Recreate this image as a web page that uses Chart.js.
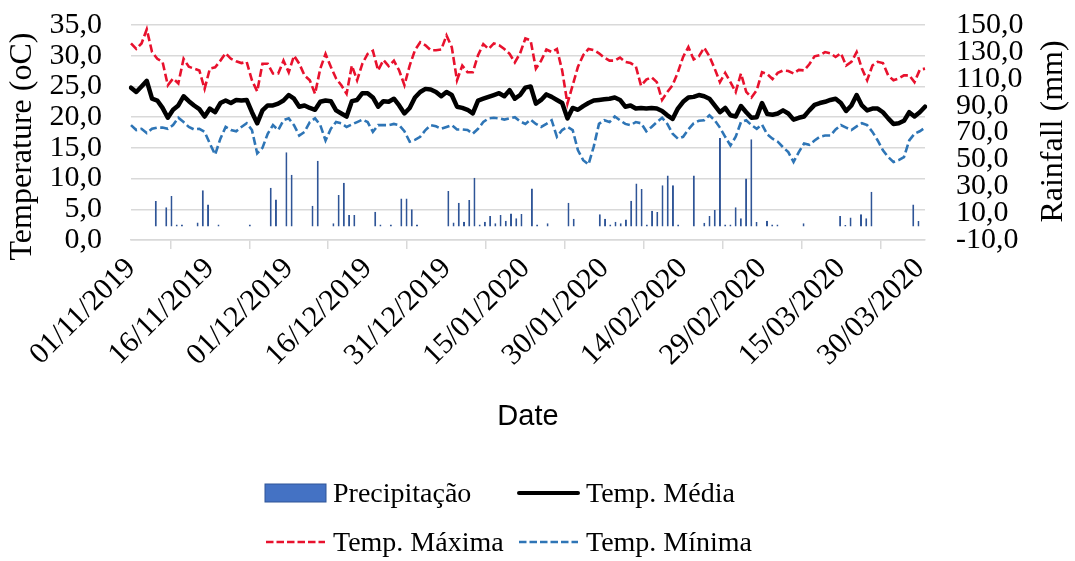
<!DOCTYPE html>
<html>
<head>
<meta charset="utf-8">
<script src="https://cdn.jsdelivr.net/npm/chart.js@4.4.0/dist/chart.umd.min.js"></script>
<style>
  html, body { margin: 0; padding: 0; background: #fff; }
  #wrap { position: relative; width: 1075px; height: 561px; }
  .leg-item {
    position: absolute; height: 28px; display: flex; align-items: center;
    font-family: "Liberation Serif", "Times New Roman", serif; font-size: 28px;
    line-height: 28px; color: #000; white-space: nowrap;
  }
  .leg-item svg { margin-right: 6px; }
</style>
</head>
<body>
<div id="wrap">
  <canvas id="weatherChart" width="1075" height="561" style="width:1075px;height:561px"></canvas>
  <div id="legend"></div>
</div>
<script>
// daily series, 01/11/2019 .. 31/03/2020
const tempMax = [
  32.0, 31.1, 32.0, 34.3, 30.6, 29.5, 29.0, 25.2, 26.3, 25.5,
  29.5, 28.2, 27.9, 27.6, 24.6, 27.9, 28.1, 29.2, 30.4, 29.5,
  29.1, 28.8, 29.0, 26.0, 24.2, 28.7, 28.7, 27.1, 27.1, 29.2,
  27.3, 30.0, 28.7, 26.8, 26.0, 23.8, 27.9, 30.3, 28.2, 26.3,
  25.2, 23.8, 28.4, 26.0, 28.7, 30.3, 30.8, 27.6, 29.3, 28.3,
  29.2, 27.6, 25.2, 28.4, 30.9, 32.2, 31.7, 30.9, 30.9, 31.0,
  33.3, 31.4, 26.0, 28.4, 27.3, 27.3, 30.1, 31.9, 31.1, 32.0,
  31.7, 31.1, 30.3, 28.9, 30.4, 32.8, 32.5, 27.9, 29.2, 31.0,
  30.6, 31.1, 27.6, 22.2, 25.2, 28.2, 30.1, 31.1, 30.9, 30.4,
  29.7, 29.2, 29.2, 29.7, 29.0, 28.8, 28.3, 25.1, 26.1, 26.5,
  25.7, 22.8, 24.1, 25.2, 27.3, 29.8, 31.4, 29.4, 29.9, 31.3,
  29.9, 27.9, 25.7, 27.2, 25.7, 24.1, 27.1, 24.1, 23.2, 24.4,
  27.3, 27.0, 26.2, 27.2, 27.6, 27.5, 27.1, 27.7, 27.6, 28.6,
  29.9, 30.1, 30.6, 30.4, 29.8, 30.4, 28.4, 29.0, 30.6, 27.9,
  26.0, 28.4, 29.0, 28.8, 26.8, 26.0, 26.3, 26.8, 26.8, 25.7,
  27.7, 27.9
];
const tempMedia = [
  24.8, 24.1, 25.0, 25.9, 23.0, 22.7, 21.5, 19.9, 21.2, 21.9,
  23.4, 22.6, 21.9, 21.3, 20.1, 21.4, 20.8, 22.3, 22.7, 22.3,
  22.8, 22.7, 22.8, 20.8, 19.0, 21.1, 21.9, 21.9, 22.2, 22.7,
  23.6, 23.0, 21.7, 21.9, 21.5, 21.2, 22.5, 22.7, 22.6, 21.1,
  20.6, 20.1, 22.6, 22.8, 23.9, 23.9, 23.2, 21.7, 22.6, 22.5,
  23.0, 21.9, 20.6, 21.5, 23.2, 24.1, 24.6, 24.5, 24.1, 23.4,
  24.1, 23.6, 21.7, 21.5, 21.2, 20.6, 22.7, 23.0, 23.3, 23.6,
  23.9, 23.4, 24.4, 23.0, 23.6, 24.8, 25.0, 22.2, 22.8, 23.7,
  23.3, 22.8, 22.3, 19.8, 21.5, 21.2, 21.8, 22.3, 22.7, 22.8,
  22.9, 23.0, 23.2, 22.8, 21.7, 21.9, 21.4, 21.5, 21.4, 21.5,
  21.4, 21.0, 20.3, 19.7, 21.4, 22.5, 23.2, 23.3, 23.6, 23.4,
  23.0, 21.9, 20.8, 21.5, 20.3, 20.1, 21.8, 20.8, 19.9, 20.0,
  22.3, 20.5, 20.4, 20.6, 21.1, 20.6, 19.6, 19.9, 20.1, 21.1,
  22.0, 22.3, 22.5, 22.8, 23.0, 22.3, 21.0, 21.9, 23.6, 21.9,
  21.1, 21.4, 21.4, 20.8, 19.8, 18.9, 19.0, 19.4, 20.8, 20.1,
  20.8, 21.7
];
const tempMin = [
  18.7, 17.9, 18.1, 17.4, 18.1, 18.3, 18.3, 18.1, 18.7, 19.9,
  19.2, 18.4, 18.0, 18.1, 17.6, 15.7, 13.9, 16.5, 18.4, 17.9,
  17.7, 18.4, 19.0, 17.9, 14.1, 15.0, 17.3, 18.7, 17.9, 19.5,
  19.8, 18.7, 17.0, 17.6, 19.2, 19.8, 18.7, 16.2, 18.1, 19.2,
  19.0, 18.4, 18.8, 19.2, 19.6, 19.2, 17.6, 18.7, 18.7, 18.7,
  18.9, 18.7, 17.7, 16.0, 16.3, 16.8, 17.9, 18.7, 18.5, 18.1,
  18.4, 18.7, 18.0, 18.0, 17.9, 17.3, 18.1, 19.2, 19.8, 19.9,
  19.8, 19.6, 19.8, 20.0, 19.3, 18.9, 19.6, 18.9, 18.4, 18.9,
  19.5, 16.8, 17.9, 18.4, 17.9, 14.6, 13.0, 12.3, 15.2, 18.9,
  19.5, 19.2, 20.1, 19.5, 18.9, 18.7, 19.2, 19.0, 17.7, 18.4,
  19.2, 19.9, 18.9, 17.3, 16.5, 16.8, 18.0, 19.0, 19.4, 19.5,
  20.3, 19.5, 18.3, 16.8, 15.4, 16.8, 19.2, 19.5, 18.7, 18.1,
  18.8, 17.2, 16.5, 16.0, 15.1, 14.3, 12.7, 14.3, 15.7, 15.5,
  16.2, 16.8, 17.0, 17.0, 18.0, 18.7, 18.3, 17.9, 18.5, 19.0,
  18.7, 17.6, 16.2, 14.6, 13.5, 12.7, 13.0, 13.5, 16.2, 17.3,
  17.7, 18.3
];
const rain = [
  0, 0, 0, 0, 19.0, 0, 14.3, 22.7, 1.5, 1.5,
  0, 0, 3.1, 27.1, 16.5, 0, 1.5, 0, 0, 0,
  0, 0, 1.5, 0, 0, 0, 28.9, 20.2, 0, 55.3,
  38.5, 0, 0, 0, 15.5, 48.9, 0, 0, 2.4, 23.4,
  32.6, 8.6, 8.6, 0, 0, 0, 11.0, 1.5, 0, 1.5,
  0, 20.9, 20.9, 12.8, 1.5, 0, 0, 0, 0, 0,
  26.4, 3.1, 17.7, 3.6, 19.7, 36.3, 1.5, 3.6, 7.8, 2.4,
  8.6, 4.4, 9.8, 6.1, 9.3, 0, 28.4, 1.5, 0, 2.4,
  0, 0, 0, 17.7, 5.8, 0, 0, 0, 0, 9.1,
  5.8, 1.5, 3.6, 2.4, 5.3, 19.2, 32.1, 27.9, 1.5, 11.8,
  10.8, 30.8, 38.0, 30.8, 1.5, 0, 0, 38.0, 0, 2.9,
  7.8, 12.3, 66.0, 1.5, 1.5, 14.3, 6.1, 35.8, 65.0, 3.4,
  0, 4.4, 1.5, 1.5, 0, 0, 0, 0, 2.4, 0,
  0, 0, 0, 0, 0, 7.8, 1.1, 6.8, 0, 9.1,
  6.1, 25.9, 0, 0, 0, 0, 0, 0, 0, 16.5,
  4.1, 0
];
const tickDates = [
  "01/11/2019", "16/11/2019", "01/12/2019", "16/12/2019", "31/12/2019", "15/01/2020",
  "30/01/2020", "14/02/2020", "29/02/2020", "15/03/2020", "30/03/2020"
];

const pad2 = (n) => String(n).padStart(2, "0");
const dates = tempMedia.map((_, i) => {
  const d = new Date(2019, 10, 1 + i);
  return pad2(d.getDate()) + "/" + pad2(d.getMonth() + 1) + "/" + d.getFullYear();
});

const serif = '"Liberation Serif", "Times New Roman", serif';
const gridGray = "#d9d9d9";
const comma = (v) => v.toFixed(1).replace(".", ",");

// y axis titles read bottom-to-top on both sides, so they are drawn here
const axisTitles = {
  id: "axisTitles",
  afterDraw(chart) {
    const { ctx, chartArea } = chart;
    const mid = (chartArea.top + chartArea.bottom) / 2;
    ctx.save();
    ctx.fillStyle = "#000";
    ctx.font = "32px " + serif;
    ctx.textAlign = "center";
    ctx.textBaseline = "middle";
    [["Temperature (oC)", 23, mid + 14], ["Rainfall (mm)", 1054, mid - 1]].forEach(([text, x, y]) => {
      ctx.save();
      ctx.translate(x, y);
      ctx.rotate(-Math.PI / 2);
      ctx.fillText(text, 0, 0);
      ctx.restore();
    });
    ctx.restore();
  },
};

const datasets = [
  {
    type: "line", label: "Temp. Média", data: tempMedia, xAxisID: "x", yAxisID: "y",
    borderColor: "#000000", borderWidth: 4.5, borderJoinStyle: "round", borderCapStyle: "round",
    pointRadius: 0, tension: 0, order: 1,
  },
  {
    type: "line", label: "Temp. Máxima", data: tempMax, xAxisID: "x", yAxisID: "y",
    borderColor: "#e8112d", borderWidth: 2.6, borderDash: [8, 3.5],
    pointRadius: 0, tension: 0, order: 2,
  },
  {
    type: "line", label: "Temp. Mínima", data: tempMin, xAxisID: "x", yAxisID: "y",
    borderColor: "#2e75b6", borderWidth: 2.6, borderDash: [8, 3.5],
    pointRadius: 0, tension: 0, order: 3,
  },
  {
    type: "bar", label: "Precipitação", data: rain.map((v) => (v > 0 ? v : null)),
    xAxisID: "xBar", yAxisID: "yRain",
    backgroundColor: "#4472c4", borderColor: "#2f5597", borderWidth: 1.3,
    barPercentage: 0.76, categoryPercentage: 1, order: 10,
  },
];

new Chart(document.getElementById("weatherChart"), {
  type: "bar",
  data: { labels: dates, datasets: datasets },
  options: {
    responsive: false,
    animation: false,
    devicePixelRatio: 1,
    layout: { padding: { top: 25, bottom: 127, left: 0, right: 0 } },
    plugins: { legend: { display: false }, tooltip: { enabled: false } },
    scales: {
      x: {
        type: "category",
        offset: false,
        position: "bottom",
        grid: { drawOnChartArea: false, drawTicks: true, tickLength: 9, color: gridGray, lineWidth: 1.5 },
        border: { display: true, color: gridGray, width: 1.5 },
        ticks: {
          autoSkip: false, minRotation: 45, maxRotation: 45, padding: 2,
          color: "#000", font: { family: serif, size: 30 },
          callback: (v, i) => (tickDates.includes(dates[i]) ? dates[i] : null),
        },
        title: {
          display: true, text: "Date", color: "#000", padding: 0,
          font: { family: '"Liberation Sans", Arial, sans-serif', size: 29 },
        },
        afterFit: (scale) => { scale.height = 194; },
      },
      xBar: { type: "category", offset: true, display: false },
      y: {
        position: "left", min: 0, max: 35,
        // invisible tick marks make the gap between labels and plot
        grid: { color: gridGray, lineWidth: 1.5, drawTicks: true, tickLength: 29, tickColor: "transparent" },
        border: { display: false },
        ticks: {
          count: 8, autoSkip: false, padding: 0, color: "#000",
          font: { family: serif, size: 30, lineHeight: 1 }, callback: comma,
        },
        afterFit: (scale) => { scale.width = 131; },
      },
      yRain: {
        position: "right", min: -10, max: 150,
        grid: { drawOnChartArea: false, drawTicks: true, tickLength: 31, tickColor: "transparent" },
        border: { display: false },
        ticks: {
          count: 9, autoSkip: false, padding: 0, color: "#000",
          font: { family: serif, size: 30, lineHeight: 1 }, callback: comma,
        },
        afterFit: (scale) => { scale.width = 150; },
      },
    },
  },
  plugins: [axisTitles],
});

// legend: two rows of two, same order as the original
const legendSlots = [
  { name: "Precipitação", x: 264, y: 492.5 },
  { name: "Temp. Média", x: 517, y: 492.5 },
  { name: "Temp. Máxima", x: 264, y: 542 },
  { name: "Temp. Mínima", x: 517, y: 542 },
];

function symbolFor(ds) {
  if (ds.type === "bar") {
    return `<svg width="63" height="20"><rect x="1" y="1" width="61" height="18" fill="${ds.backgroundColor}" stroke="${ds.borderColor}" stroke-width="1"/></svg>`;
  }
  const dash = ds.borderDash ? `stroke-dasharray="7.5 3"` : `stroke-linecap="round"`;
  return `<svg width="63" height="20"><line x1="2" y1="10" x2="61" y2="10" stroke="${ds.borderColor}" stroke-width="${ds.borderDash ? 2.5 : 4}" ${dash}/></svg>`;
}

const legendBox = document.getElementById("legend");
legendSlots.forEach((slot) => {
  const ds = datasets.find((d) => d.label === slot.name);
  const el = document.createElement("div");
  el.className = "leg-item";
  el.style.left = slot.x + "px";
  el.style.top = slot.y - 14 + "px";
  el.innerHTML = symbolFor(ds) + `<span>${ds.label}</span>`;
  legendBox.appendChild(el);
});
</script>
</body>
</html>
